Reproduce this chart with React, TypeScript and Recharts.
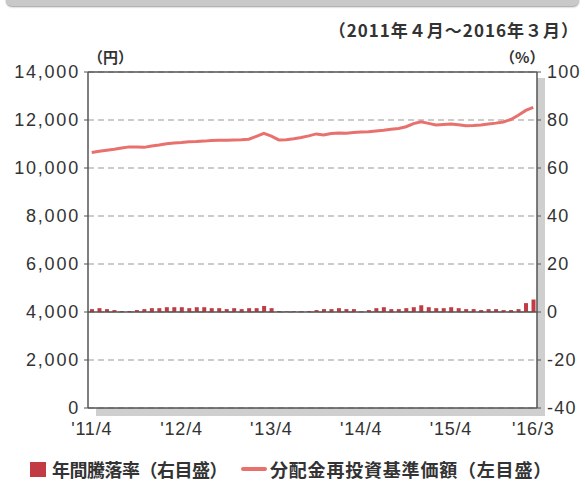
import { ComposedChart, Bar, Line, XAxis, YAxis, CartesianGrid, ReferenceLine } from 'recharts';

// month labels '11/4 … '16/3
const months: string[] = [];
for (let i = 0; i < 60; i++) {
  const m = ((3 + i) % 12) + 1;
  const y = 11 + Math.floor((3 + i) / 12);
  months.push(`'${y}/${m}`);
}

const xTicks = ["'11/4", "'12/4", "'13/4", "'14/4", "'15/4", "'16/3"];
const leftTicks = [0, 2000, 4000, 6000, 8000, 10000, 12000, 14000];
const rightTicks = [-40, -20, 0, 20, 40, 60, 80, 100];

// 分配金再投資基準価額 (円)
const navValues = [
  10650, 10700, 10740, 10780, 10830, 10880, 10870, 10860, 10920, 10960,
  11010, 11040, 11060, 11090, 11100, 11120, 11150, 11160, 11160, 11170,
  11180, 11200, 11320, 11440, 11330, 11170, 11180, 11220, 11270, 11340,
  11420, 11380, 11440, 11460, 11450, 11480, 11500, 11510, 11540, 11570,
  11610, 11650, 11720, 11850, 11930, 11860, 11790, 11810, 11830, 11800,
  11760, 11770, 11790, 11830, 11870, 11920, 12020, 12200, 12400, 12530,
];

// 年間騰落率 (%)
const changeRates = [
  1.2, 1.6, 1.2, 0.8, 0.4, 0.4, 0.8, 1.2, 1.6, 1.6,
  2.0, 2.0, 2.0, 1.6, 2.0, 2.0, 1.6, 1.6, 1.2, 1.6,
  1.2, 1.6, 1.6, 2.5, 1.6, 0.4, 0.3, 0.3, 0.3, 0.4,
  0.8, 1.2, 1.2, 1.6, 1.2, 1.2, 0.2, 0.8, 1.6, 2.0,
  1.2, 1.2, 1.6, 2.0, 2.8, 2.0, 1.6, 1.6, 2.0, 1.6,
  1.2, 1.2, 0.8, 1.2, 1.2, 0.8, 0.8, 1.2, 3.7, 5.2,
];

const data = months.map((month, i) => ({ month, nav: navValues[i], rate: changeRates[i] }));

const numFont = '"Liberation Sans", Arial, sans-serif';
const jpFont = '"Noto Sans CJK JP", sans-serif';
const lineColor = '#e8716d';
const barColor = '#c23a42';
const frameColor = '#555';
const textColor = '#333';

export default function App() {
  return (
    <div style={{ position: 'absolute', left: 0, top: 0, width: 585, height: 486, background: '#fff', overflow: 'hidden' }}>
      <div style={{ position: 'absolute', left: 6, top: -6, width: 573, height: 12, background: '#c9c9c9', borderRadius: 6, boxShadow: '0 1px 2px #999' }} />
      <div style={{ position: 'absolute', right: 6, top: 17, fontFamily: jpFont, fontSize: 17, fontWeight: 700, color: textColor, letterSpacing: 1 }}>
        （2011年４月～2016年３月）
      </div>
      <div style={{ position: 'absolute', left: 88, top: 46, fontFamily: jpFont, fontSize: 15, fontWeight: 700, color: textColor }}>（円）</div>
      <div style={{ position: 'absolute', left: 500, top: 46, fontFamily: jpFont, fontSize: 15, fontWeight: 700, color: textColor }}>（%）</div>
      {/* frame shadow */}
      <div style={{ position: 'absolute', left: 96, top: 78, width: 449, height: 338, background: '#cfcfcf' }} />
      <ComposedChart
        width={585}
        height={486}
        data={data}
        margin={{ top: 72, right: 0, left: 0, bottom: 48 }}
        style={{ position: 'absolute', left: 0, top: 0 }}
      >
        <CartesianGrid yAxisId="left" vertical={false} horizontal strokeDasharray="6 4" stroke="#999" fill="#fff" />
        <XAxis
          dataKey="month"
          ticks={xTicks}
          interval={0}
          height={30}
          tickLine={false}
          tickMargin={8}
          axisLine={{ stroke: frameColor, strokeWidth: 1.5 }}
          tick={{ fontFamily: numFont, fontSize: 18, fill: textColor, letterSpacing: 0.8 }}
        />
        <YAxis
          yAxisId="left"
          orientation="left"
          width={88}
          domain={[0, 14000]}
          ticks={leftTicks}
          interval={0}
          tickSize={4}
          tickMargin={4}
          tickFormatter={(v: number) => v.toLocaleString('en-US')}
          axisLine={{ stroke: frameColor, strokeWidth: 1.5 }}
          tickLine={{ stroke: frameColor }}
          tick={{ fontFamily: numFont, fontSize: 18, fill: textColor, letterSpacing: 1.8 }}
        />
        <YAxis
          yAxisId="right"
          orientation="right"
          width={48}
          domain={[-40, 100]}
          ticks={rightTicks}
          interval={0}
          tickSize={4}
          tickMargin={6}
          axisLine={{ stroke: frameColor, strokeWidth: 1.5 }}
          tickLine={{ stroke: frameColor }}
          tick={{ fontFamily: numFont, fontSize: 18, fill: textColor, letterSpacing: 1.3, textAnchor: 'start' }}
        />
        <ReferenceLine yAxisId="left" y={14000} stroke={frameColor} strokeWidth={1.5} />
        <ReferenceLine yAxisId="right" y={0} stroke={frameColor} strokeWidth={1.5} />
        <Bar yAxisId="right" dataKey="rate" fill={barColor} barSize={4} isAnimationActive={false} />
        <Line
          yAxisId="left"
          dataKey="nav"
          stroke={lineColor}
          strokeWidth={3}
          dot={false}
          type="linear"
          isAnimationActive={false}
        />
      </ComposedChart>
      {/* legend */}
      <div style={{ position: 'absolute', left: 30, top: 456, display: 'flex', alignItems: 'center', fontFamily: jpFont, fontSize: 18, fontWeight: 700, color: textColor, whiteSpace: 'nowrap' }}>
        <span style={{ display: 'inline-block', width: 16, height: 15, background: barColor, marginRight: 6 }} />
        <span style={{ letterSpacing: -0.5 }}>年間騰落率（右目盛）</span>
        <span style={{ display: 'inline-block', width: 26, height: 4, background: lineColor, borderRadius: 2, marginLeft: 14, marginRight: 3 }} />
        <span style={{ letterSpacing: 0.8 }}>分配金再投資基準価額（左目盛）</span>
      </div>
    </div>
  );
}
